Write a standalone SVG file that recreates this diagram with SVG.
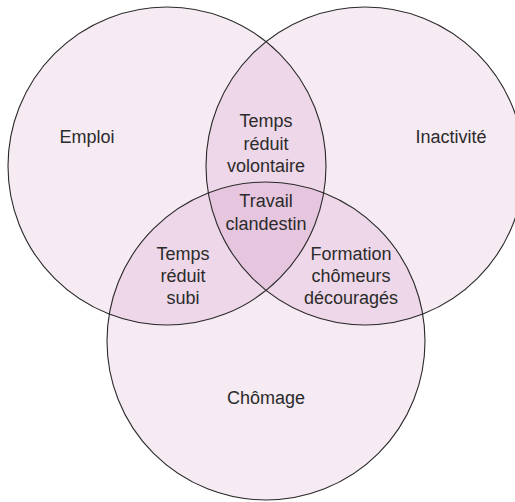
<svg xmlns="http://www.w3.org/2000/svg" width="515" height="502" viewBox="0 0 515 502">
<style>
.c{fill:rgb(173,64,146);fill-opacity:0.11}
.o{fill:none;stroke:#2a2a2a;stroke-width:1.1}
text{font-family:"Liberation Sans",Arial,sans-serif;font-size:18px;fill:#2b2b2b;text-anchor:middle}
</style>
<rect width="515" height="502" fill="#ffffff"/>
<g id="emploi">
<circle class="c" cx="167" cy="166" r="159"/>
<text x="87" y="143">Emploi</text>
</g>
<g id="inactivite">
<circle class="c" cx="365" cy="166" r="159"/>
<text x="451" y="143">Inactivité</text>
</g>
<g id="chomage">
<circle class="c" cx="266" cy="341" r="159"/>
<text x="266" y="404">Chômage</text>
</g>
<g id="outlines">
<circle class="o" cx="167" cy="166" r="159"/>
<circle class="o" cx="365" cy="166" r="159"/>
<circle class="o" cx="266" cy="341" r="159"/>
</g>
<g id="temps-reduit-volontaire">
<text x="266" y="127">Temps</text>
<text x="266" y="149.5">réduit</text>
<text x="266" y="172">volontaire</text>
</g>
<g id="travail-clandestin">
<text x="266" y="207">Travail</text>
<text x="266" y="229.5">clandestin</text>
</g>
<g id="temps-reduit-subi">
<text x="183" y="260">Temps</text>
<text x="183" y="282">réduit</text>
<text x="183" y="304">subi</text>
</g>
<g id="formation">
<text x="351" y="260">Formation</text>
<text x="351" y="282">chômeurs</text>
<text x="351" y="304">découragés</text>
</g>
</svg>
